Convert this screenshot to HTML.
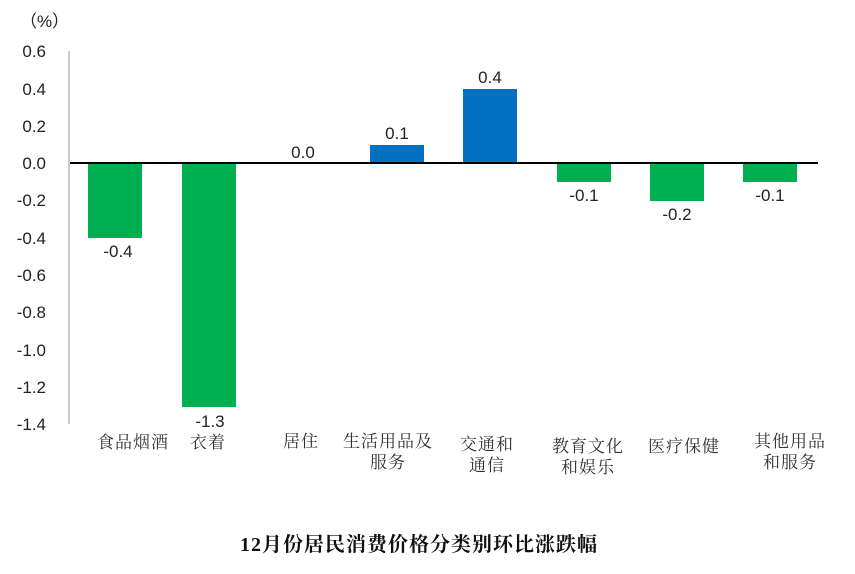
<!DOCTYPE html>
<html><head><meta charset="utf-8"><style>
html,body{margin:0;padding:0;background:#fff;}
svg{display:block;}
.t{font-family:"Liberation Sans","Noto Sans CJK SC",sans-serif;font-size:17px;fill:#222;}
.c{font-family:"Liberation Serif","Noto Serif CJK SC","Noto Sans CJK SC",serif;font-size:17px;letter-spacing:1px;fill:#333;}
</style></head><body>
<svg width="855" height="574" viewBox="0 0 855 574" xmlns="http://www.w3.org/2000/svg">
<text class="t" x="20" y="27" style="font-size:17px">（%）</text>
<g class="t" text-anchor="end">
<text x="46" y="57">0.6</text>
<text x="46" y="95">0.4</text>
<text x="46" y="132">0.2</text>
<text x="46" y="169">0.0</text>
<text x="46" y="206">-0.2</text>
<text x="46" y="244">-0.4</text>
<text x="46" y="281">-0.6</text>
<text x="46" y="318">-0.8</text>
<text x="46" y="356">-1.0</text>
<text x="46" y="393">-1.2</text>
<text x="46" y="430">-1.4</text>
</g>
<line x1="69" y1="51" x2="69" y2="424" stroke="#999" stroke-width="1"/>
<g fill="#00B050">
<rect x="88" y="163" width="54" height="75"/>
<rect x="182" y="163" width="54" height="244"/>
<rect x="557" y="163" width="54" height="19"/>
<rect x="650" y="163" width="54" height="38"/>
<rect x="743" y="163" width="54" height="19"/>
</g>
<g fill="#0070C0">
<rect x="370" y="145" width="54" height="18"/>
<rect x="463" y="89" width="54" height="74"/>
</g>
<line x1="70" y1="163" x2="818" y2="163" stroke="#000" stroke-width="2"/>
<g class="t" text-anchor="middle">
<text x="118" y="257">-0.4</text>
<text x="210" y="427">-1.3</text>
<text x="303" y="158">0.0</text>
<text x="397" y="139">0.1</text>
<text x="490" y="83">0.4</text>
<text x="584" y="201">-0.1</text>
<text x="677" y="220">-0.2</text>
<text x="770" y="201">-0.1</text>
</g>
<g class="c" text-anchor="middle">
<text x="133" y="448">食品烟酒</text>
<text x="208" y="448">衣着</text>
<text x="301" y="447">居住</text>
<text x="388" y="447">生活用品及</text>
<text x="388" y="468">服务</text>
<text x="487" y="450">交通和</text>
<text x="487" y="471">通信</text>
<text x="588" y="452">教育文化</text>
<text x="588" y="473">和娱乐</text>
<text x="684" y="452">医疗保健</text>
<text x="790" y="447">其他用品</text>
<text x="790" y="468">和服务</text>
</g>
<text x="419" y="551" text-anchor="middle" style="font-family:'Liberation Serif','Noto Serif CJK SC',serif;font-size:20px;letter-spacing:1px;font-weight:bold;fill:#111">12月份居民消费价格分类别环比涨跌幅</text>
</svg>
</body></html>
